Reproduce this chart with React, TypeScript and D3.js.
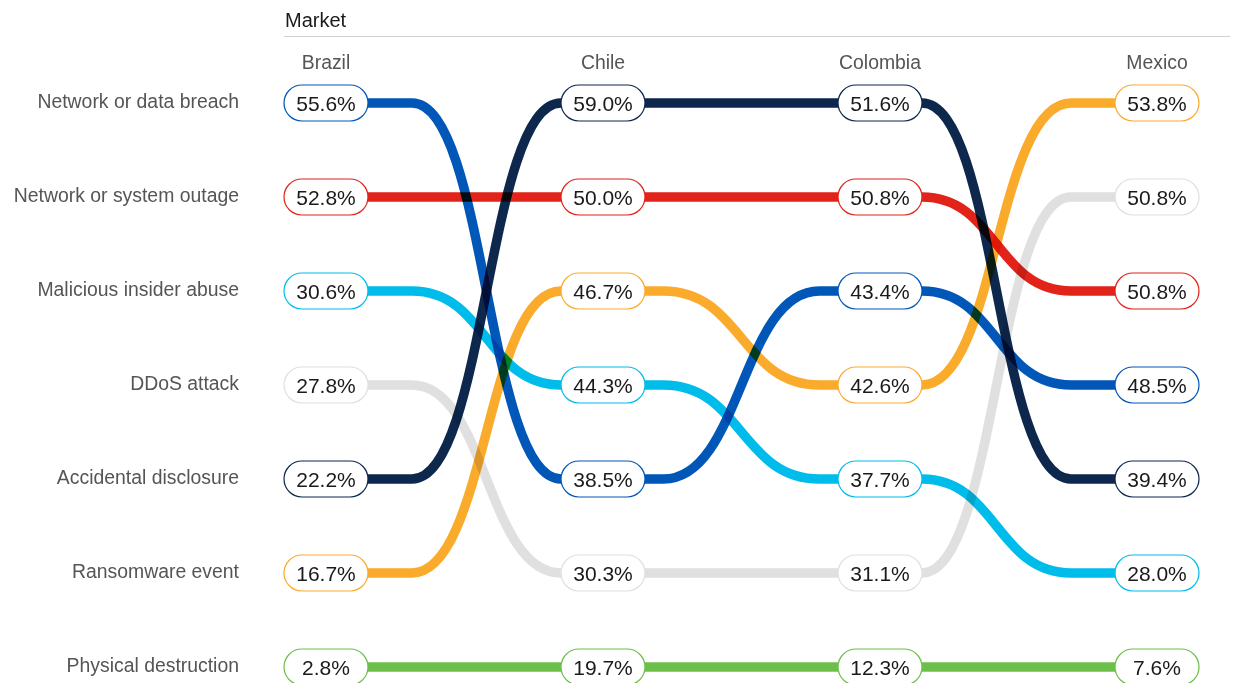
import React, { useEffect, useRef } from "react";
import * as d3 from "d3";

const markets = ["Brazil", "Chile", "Colombia", "Mexico"];
const categories = [
  "Network or data breach",
  "Network or system outage",
  "Malicious insider abuse",
  "DDoS attack",
  "Accidental disclosure",
  "Ransomware event",
  "Physical destruction",
];
// values per category, in market order
const breach = [55.6, 38.5, 43.4, 48.5];
const outage = [52.8, 50.0, 50.8, 50.8];
const insider = [30.6, 44.3, 37.7, 28.0];
const ddos = [27.8, 30.3, 31.1, 50.8];
const disclosure = [22.2, 59.0, 51.6, 39.4];
const ransomware = [16.7, 46.7, 42.6, 53.8];
const physical = [2.8, 19.7, 12.3, 7.6];
const seriesValues = [breach, outage, insider, ddos, disclosure, ransomware, physical];
const colors = ["#0057b8", "#e2231a", "#00bceb", "#e0e0e0", "#0d274d", "#fbab2c", "#6cc04a"];

const WIDTH = 1236;
const HEIGHT = 683;
const PILL_W = 84;
const PILL_H = 36;
const BEND = 78; // half width of the s-curve between columns

export default function App() {
  const ref = useRef<SVGSVGElement>(null);

  useEffect(() => {
    const container = ref.current;
    if (!container) return;
    const svg = d3.select(container);
    svg.selectAll("*").remove();

    const x = d3.scalePoint<string>().domain(markets).range([326, 1157]);
    const y = d3
      .scalePoint<number>()
      .domain(d3.range(categories.length))
      .range([103, 667]);
    // where the rank changes happen between two markets
    const gap = d3
      .scalePoint<number>()
      .domain(d3.range(markets.length - 1))
      .range([490, 993]);

    // rank of each series within each market (ties: later series first)
    const ranks: number[][] = seriesValues.map(() => []);
    markets.forEach((m, mi) => {
      const order = d3
        .range(seriesValues.length)
        .sort((a, b) => seriesValues[b][mi] - seriesValues[a][mi] || b - a);
      order.forEach((si, r) => (ranks[si][mi] = r));
    });

    const font = "'Liberation Sans', Arial, sans-serif";

    // header
    svg
      .append("text")
      .attr("x", 285)
      .attr("y", 27)
      .attr("font-family", font)
      .attr("font-size", 20)
      .attr("fill", "#1a1a1a")
      .text("Market");
    svg
      .append("line")
      .attr("x1", 284)
      .attr("x2", 1230)
      .attr("y1", 36.5)
      .attr("y2", 36.5)
      .attr("stroke", "#d0d0d0");

    svg
      .selectAll(".col")
      .data(markets)
      .enter()
      .append("text")
      .attr("x", (d) => x(d)!)
      .attr("y", 69)
      .attr("text-anchor", "middle")
      .attr("font-family", font)
      .attr("font-size", 19.4)
      .attr("fill", "#555")
      .text((d) => d);

    svg
      .selectAll(".row")
      .data(categories)
      .enter()
      .append("text")
      .attr("x", 239)
      .attr("y", (_, i) => y(i)! + 5)
      .attr("text-anchor", "end")
      .attr("font-family", font)
      .attr("font-size", 19.4)
      .attr("fill", "#555")
      .text((d) => d);

    const line = d3
      .line<[number, number]>()
      .x((d) => d[0])
      .y((d) => d[1])
      .curve(d3.curveBumpX);

    svg
      .append("g")
      .selectAll("path")
      .data(seriesValues)
      .enter()
      .append("path")
      .attr("d", (_, si) => {
        const pts: [number, number][] = [];
        markets.forEach((m, mi) => {
          const yy = y(ranks[si][mi])!;
          const left = x(m)! - PILL_W / 2;
          const right = x(m)! + PILL_W / 2;
          pts.push([left, yy]);
          pts.push([right, yy]);
          if (mi < markets.length - 1) {
            const c = gap(mi)!;
            const nextY = y(ranks[si][mi + 1])!;
            const nextLeft = x(markets[mi + 1])! - PILL_W / 2;
            pts.push([Math.max(right, c - BEND), yy]);
            pts.push([Math.min(nextLeft, c + BEND), nextY]);
          }
        });
        return line(pts);
      })
      .attr("fill", "none")
      .attr("stroke", (_, si) => colors[si])
      .attr("stroke-width", 9.5)
      .style("mix-blend-mode", "multiply");

    const pills = svg.append("g");
    seriesValues.forEach((vals, si) => {
      vals.forEach((v, mi) => {
        const cx = x(markets[mi])!;
        const cy = y(ranks[si][mi])!;
        pills
          .append("rect")
          .attr("x", cx - PILL_W / 2)
          .attr("y", cy - PILL_H / 2)
          .attr("width", PILL_W)
          .attr("height", PILL_H)
          .attr("rx", PILL_H / 2)
          .attr("fill", "#fff")
          .attr("stroke", colors[si])
          .attr("stroke-width", 1.2);
        pills
          .append("text")
          .attr("x", cx)
          .attr("y", cy + 7.5)
          .attr("text-anchor", "middle")
          .attr("font-family", font)
          .attr("font-size", 21)
          .attr("fill", "#1a1a1a")
          .text(`${v.toFixed(1)}%`);
      });
    });
  }, []);

  return (
    <svg
      ref={ref}
      width={WIDTH}
      height={HEIGHT}
      style={{ position: "absolute", left: 0, top: 0, background: "#fff", isolation: "isolate" }}
    />
  );
}
